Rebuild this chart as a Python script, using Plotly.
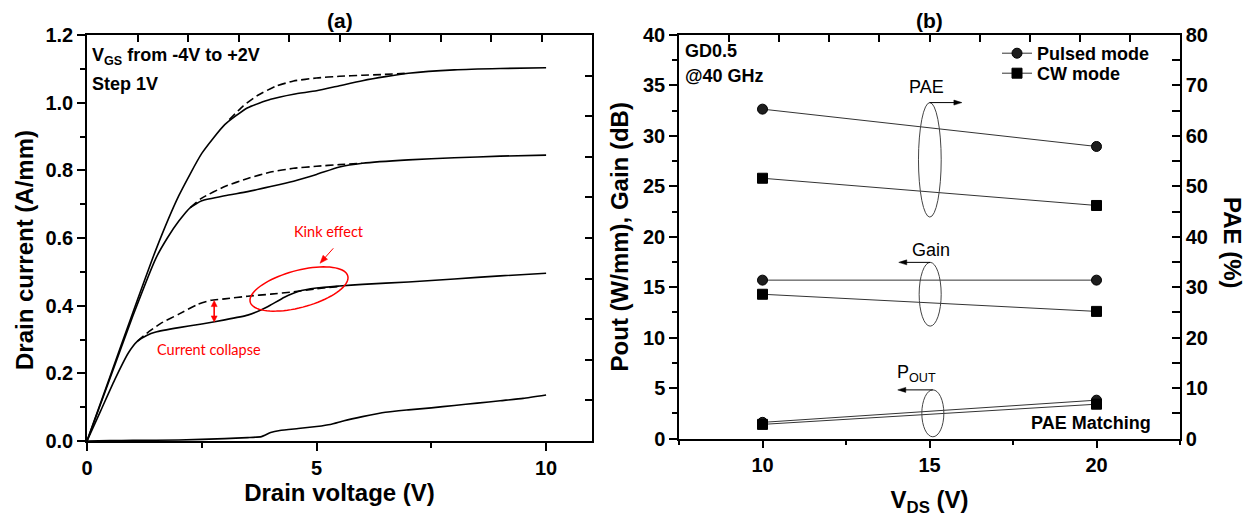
import numpy as np
import plotly.graph_objects as go

# ---------------- data: panel (a) output characteristics ----------------
vd_p2_dc = [0, 0.5, 1.0, 1.5, 2.0, 2.5, 3.0, 3.5, 4.0, 4.5, 5.0, 5.5, 6.0, 6.5, 7.0, 8.0, 9.0, 10.0]
id_p2_dc = [0, 0.19, 0.38, 0.565, 0.725, 0.85, 0.935, 0.985, 1.01, 1.025, 1.035, 1.05, 1.065, 1.077, 1.087, 1.097, 1.101, 1.103]
vd_p2_pl = [3.1, 3.4, 3.7, 4.1, 4.5, 5.0, 5.5, 6.0, 6.4, 7.0]
id_p2_pl = [0.95, 0.99, 1.02, 1.048, 1.064, 1.073, 1.078, 1.081, 1.083, 1.087]

vd_p1_dc = [0, 0.5, 1.0, 1.5, 1.75, 2.0, 2.25, 2.5, 3.0, 3.5, 4.0, 4.5, 5.0, 5.5, 6.0, 7.0, 8.0, 9.0, 10.0]
id_p1_dc = [0, 0.185, 0.37, 0.54, 0.60, 0.65, 0.69, 0.71, 0.725, 0.737, 0.752, 0.768, 0.788, 0.81, 0.821, 0.831, 0.837, 0.842, 0.845]
vd_p1_pl = [2.25, 2.5, 3.0, 3.5, 4.0, 4.5, 5.0, 5.5, 6.0]
id_p1_pl = [0.69, 0.718, 0.752, 0.776, 0.795, 0.806, 0.812, 0.817, 0.821]

vd_0_dc = [0, 0.3, 0.6, 0.9, 1.1, 1.3, 1.5, 2.0, 2.5, 3.0, 3.5, 3.8, 4.0, 4.3, 4.6, 5.0, 5.5, 6.0, 7.0, 8.0, 9.0, 10.0]
id_0_dc = [0, 0.09, 0.18, 0.26, 0.295, 0.312, 0.322, 0.335, 0.346, 0.358, 0.372, 0.388, 0.402, 0.425, 0.442, 0.452, 0.458, 0.463, 0.470, 0.479, 0.488, 0.496]
vd_0_pl = [1.1, 1.3, 1.6, 2.0, 2.4, 2.7, 3.0, 3.5, 4.0, 4.5, 5.0, 5.5]
id_0_pl = [0.295, 0.318, 0.347, 0.375, 0.403, 0.416, 0.42, 0.428, 0.434, 0.441, 0.45, 0.457]

vd_m1_dc = [0, 0.5, 1.0, 2.0, 3.0, 3.5, 3.8, 4.0, 4.2, 4.6, 5.0, 5.3, 5.6, 6.0, 6.5, 7.0, 7.5, 8.0, 8.5, 9.0, 9.5, 10.0]
id_m1_dc = [0, 0.001, 0.002, 0.003, 0.007, 0.010, 0.013, 0.025, 0.031, 0.037, 0.043, 0.049, 0.060, 0.072, 0.085, 0.092, 0.098, 0.105, 0.112, 0.119, 0.126, 0.136]

# ---------------- data: panel (b) ----------------
vds = [10, 20]
pae_pulsed = [65.3, 57.9]
pae_cw = [51.6, 46.2]
gain_pulsed = [15.7, 15.7]
gain_cw = [14.3, 12.6]
pout_pulsed = [1.6, 3.8]
pout_cw = [1.4, 3.4]

# ---------------- layout geometry (reference-image pixel coordinates) ----------------
OFF = 8                      # page body margin of the html page
W, H = 1253 - OFF, 519 - OFF
A_L, A_R, A_T, A_B = 87, 592, 35, 441
B_L, B_R, B_T, B_B = 679, 1180, 35, 438.5
FAM = "Liberation Sans, Arial, sans-serif"


def px(x):
    return (x - OFF) / W


def py(y):
    return 1 - (y - OFF) / H


def a_data(xp, yp):
    return ((xp - A_L) / (A_R - A_L) * 11.0, (A_B - yp) / (A_B - A_T) * 1.2)


def a_pix(v, i):
    return (A_L + v / 11.0 * (A_R - A_L), A_B - i / 1.2 * (A_B - A_T))


def b_pix(v, y):
    return (B_L + (v - 7.5) / 15.0 * (B_R - B_L), B_B - y / 40.0 * (B_B - B_T))


fig = go.Figure()

line_solid = dict(color="black", width=1.6)
line_dash = dict(color="black", width=1.6, dash="8px,4px")
for xs, ys in [(vd_p2_dc, id_p2_dc), (vd_p1_dc, id_p1_dc), (vd_0_dc, id_0_dc), (vd_m1_dc, id_m1_dc)]:
    fig.add_trace(go.Scatter(x=xs, y=ys, mode="lines", line=dict(shape="spline", smoothing=0.5, **line_solid),
                             showlegend=False, xaxis="x", yaxis="y"))
for xs, ys in [(vd_p2_pl, id_p2_pl), (vd_p1_pl, id_p1_pl), (vd_0_pl, id_0_pl)]:
    fig.add_trace(go.Scatter(x=xs, y=ys, mode="lines", line=dict(shape="spline", smoothing=0.5, **line_dash),
                             showlegend=False, xaxis="x", yaxis="y"))

# empty traces to activate mirror axes
fig.add_trace(go.Scatter(x=[], y=[], xaxis="x3", yaxis="y", showlegend=False))
fig.add_trace(go.Scatter(x=[], y=[], xaxis="x", yaxis="y4", showlegend=False))
fig.add_trace(go.Scatter(x=[], y=[], xaxis="x4", yaxis="y2", showlegend=False))

mk_pulsed = dict(symbol="circle", size=10, color="#1e1e1e", line=dict(color="black", width=1))
mk_cw = dict(symbol="square", size=10, color="black", line=dict(color="black", width=1))
bline = dict(color="#333333", width=1)

fig.add_trace(go.Scatter(x=vds, y=pae_pulsed, mode="lines+markers", marker=mk_pulsed, line=bline,
                         name="Pulsed mode", legend="legend", showlegend=True, xaxis="x2", yaxis="y3"))
fig.add_trace(go.Scatter(x=vds, y=pae_cw, mode="lines+markers", marker=mk_cw, line=bline,
                         name="CW mode", legend="legend2", showlegend=True, xaxis="x2", yaxis="y3"))
for ys in [gain_pulsed, pout_pulsed]:
    fig.add_trace(go.Scatter(x=vds, y=ys, mode="lines+markers", marker=mk_pulsed, line=bline,
                             showlegend=False, xaxis="x2", yaxis="y2"))
for ys in [gain_cw, pout_cw]:
    fig.add_trace(go.Scatter(x=vds, y=ys, mode="lines+markers", marker=mk_cw, line=bline,
                             showlegend=False, xaxis="x2", yaxis="y2"))

TF = dict(family=FAM, size=20, color="black", weight="bold")
TTF = dict(family=FAM, size=24, color="black", weight="bold")
ax_common = dict(showline=True, linecolor="black", linewidth=1.5, showgrid=False, zeroline=False,
                 ticks="outside", tickcolor="black", tickwidth=1.5, ticklen=8, tickfont=TF, automargin=False)
mirror_common = dict(showticklabels=False, showline=True, linecolor="black", linewidth=1.5, showgrid=False,
                     zeroline=False, ticks="inside", ticklen=7, tickwidth=1.5, tickcolor="black", automargin=False)
minor_out = lambda d: dict(dtick=d, ticks="outside", ticklen=5, tickcolor="black", tickwidth=1.5)
minor_in = lambda d: dict(dtick=d, ticks="inside", ticklen=8, tickcolor="black", tickwidth=1.5)

leg_font = dict(family=FAM, size=18, color="black", weight="bold")
fig.update_layout(
    width=W, height=H,
    margin=dict(l=0, r=0, t=0, b=0, autoexpand=False),
    paper_bgcolor="white", plot_bgcolor="white",
    font=dict(family=FAM, size=18, color="black"),
    hovermode=False,
    xaxis=dict(domain=[px(A_L), px(A_R)], anchor="y", range=[0, 11], tick0=0, dtick=5,
               minor=minor_out(2.5), title=dict(text="Drain voltage (V)", font=TTF, standoff=4), **ax_common),
    yaxis=dict(domain=[py(A_B), py(A_T)], anchor="x", range=[0, 1.2], tick0=0, dtick=0.2, tickformat=".1f",
               minor=minor_out(0.1), **ax_common),
    xaxis3=dict(overlaying="x", side="top", anchor="y", range=[0, 11], tick0=0, dtick=1.1, **mirror_common),
    yaxis4=dict(overlaying="y", side="right", anchor="x", range=[0, 1.2], tick0=0, dtick=0.12, **mirror_common),
    xaxis2=dict(domain=[px(B_L), px(B_R)], anchor="y2", range=[7.5, 22.5], tick0=10, dtick=5,
                minor=minor_out(2.5), title=dict(text="V<sub>DS</sub> (V)", font=TTF, standoff=16), **ax_common),
    yaxis2=dict(domain=[py(B_B), py(B_T)], anchor="x2", range=[0, 40], tick0=0, dtick=5,
                minor=minor_out(2.5), title=dict(text="Pout (W/mm), Gain (dB)", font=TTF, standoff=8), **ax_common),
    yaxis3=dict(overlaying="y2", side="right", anchor="x2", range=[0, 80], tick0=0, dtick=10, ticks="inside",
                ticklen=8, tickwidth=1.5, tickcolor="black", minor=minor_in(5), tickfont=TF, showline=True,
                linecolor="black", linewidth=1.5, showgrid=False, zeroline=False, automargin=False),
    xaxis4=dict(overlaying="x2", side="top", anchor="y2", range=[7.5, 22.5], tick0=7.5, dtick=1.5, **mirror_common),
    legend=dict(x=px(997), y=py(35), xanchor="left", yanchor="top", bgcolor="rgba(0,0,0,0)",
                font=leg_font, itemclick=False, itemdoubleclick=False, tracegroupgap=0),
    legend2=dict(x=px(997), y=py(55), xanchor="left", yanchor="top", bgcolor="rgba(0,0,0,0)",
                 font=leg_font, itemclick=False, itemdoubleclick=False, tracegroupgap=0),
)

BF = dict(family=FAM, size=18, color="black", weight="bold")
NF = dict(family=FAM, size=18, color="black", weight="normal")
RF = dict(family="Lato, Open Sans, sans-serif", size=14.5, color="#ff0000", weight="normal")

ann = []
def paper_text(text, x, y, font, xanchor="left", **kw):
    ann.append(dict(text=text, x=px(x), y=py(y), xref="paper", yref="paper", xanchor=xanchor,
                    yanchor="middle", showarrow=False, font=font, **kw))

paper_text("(a)", (A_L + A_R) / 2, 20, dict(family=FAM, size=21, color="black", weight="bold"), xanchor="center")
paper_text("(b)", (B_L + B_R) / 2, 20, dict(family=FAM, size=21, color="black", weight="bold"), xanchor="center")
paper_text("Drain current (A/mm)", 24, 250, TTF, xanchor="center", textangle=-90)
paper_text("V<sub>GS</sub> from -4V to +2V", 90, 56, BF)
paper_text("Step 1V", 90, 84, BF)
paper_text("GD0.5", 683, 51, BF)
paper_text("@40 GHz", 683, 76, BF)
paper_text("PAE Matching", 1153, 423, BF, xanchor="right")
paper_text("Kink effect", 329, 231, RF, xanchor="center")
paper_text("Current collapse", 209, 349, RF, xanchor="center")
paper_text("PAE (%)", 1233, 243, TTF, xanchor="center", textangle=90)

# panel (b) group labels
for t, x, y in [("PAE", 14.9, 34.8), ("Gain", 15.05, 18.7), ("P<sub>OUT</sub>", 14.62, 6.4)]:
    ann.append(dict(text=t, x=x, y=y, xref="x2", yref="y2", showarrow=False, font=NF,
                    xanchor="center", yanchor="middle"))
fig.update_layout(annotations=ann)

shapes = []


def arrow_shapes(tail, head, color, width, hl, hw, both=False):
    """tail/head in reference pixel coords -> line + filled triangular head(s) in paper coords"""
    out = []
    (x0, y0), (x1, y1) = tail, head
    d = np.hypot(x1 - x0, y1 - y0)
    ux, uy = (x1 - x0) / d, (y1 - y0) / d
    ends = [((x1, y1), (ux, uy))]
    if both:
        ends.append(((x0, y0), (-ux, -uy)))
    ls = (x0 + (ux * hl * 0.8 if both else 0), y0 + (uy * hl * 0.8 if both else 0))
    le = (x1 - ux * hl * 0.8, y1 - uy * hl * 0.8)
    out.append(dict(type="line", xref="paper", yref="paper", x0=px(ls[0]), y0=py(ls[1]), x1=px(le[0]),
                    y1=py(le[1]), line=dict(color=color, width=width)))
    for (hx, hy), (vx, vy) in ends:
        bx, by = hx - vx * hl, hy - vy * hl
        wx, wy = -vy, vx
        p1 = (bx + wx * hw / 2, by + wy * hw / 2)
        p2 = (bx - wx * hw / 2, by - wy * hw / 2)
        path = f"M {px(hx):.5f},{py(hy):.5f} L {px(p1[0]):.5f},{py(p1[1]):.5f} L {px(p2[0]):.5f},{py(p2[1]):.5f} Z"
        out.append(dict(type="path", xref="paper", yref="paper", path=path, fillcolor=color,
                        line=dict(color=color, width=0.5)))
    return out


# red kink ellipse (rotated) in panel (a)
t = np.linspace(0, 2 * np.pi, 80)
th = np.deg2rad(15)
cx, cy, ea, eb = 299, 289, 50.5, 18.5
xs_p = cx + ea * np.cos(t) * np.cos(th) - eb * np.sin(t) * np.sin(th)
ys_p = cy - (ea * np.cos(t) * np.sin(th) + eb * np.sin(t) * np.cos(th))
pts = [a_data(a, b) for a, b in zip(xs_p, ys_p)]
path = "M " + " L ".join(f"{u:.4f},{v:.4f}" for u, v in pts) + " Z"
shapes.append(dict(type="path", path=path, xref="x", yref="y", line=dict(color="#ff0000", width=1.5)))

# red arrows in (a)
shapes += arrow_shapes((333.3, 248.3), (320, 263.3), "#ff0000", 1, 8, 6)
shapes += arrow_shapes(a_pix(2.77, 0.415), a_pix(2.77, 0.352), "#ff0000", 1.6, 6, 6, both=True)

# black ellipses and arrows in (b)
for x0, x1, y0, y1 in [(14.67, 15.35, 21.95, 33.3), (14.69, 15.35, 11.14, 17.46), (14.77, 15.43, 0.17, 4.82)]:
    shapes.append(dict(type="circle", xref="x2", yref="y2", x0=x0, x1=x1, y0=y0, y1=y1,
                       line=dict(color="#444444", width=1)))
for (tx, ty, hx, hy) in [(15.0, 33.3, 15.97, 33.3), (15.02, 17.46, 14.08, 17.46), (15.1, 4.82, 14.05, 4.82)]:
    shapes += arrow_shapes(b_pix(tx, ty), b_pix(hx, hy), "black", 1, 8, 5)
fig.update_layout(shapes=shapes)

fig.write_html("out.html")
